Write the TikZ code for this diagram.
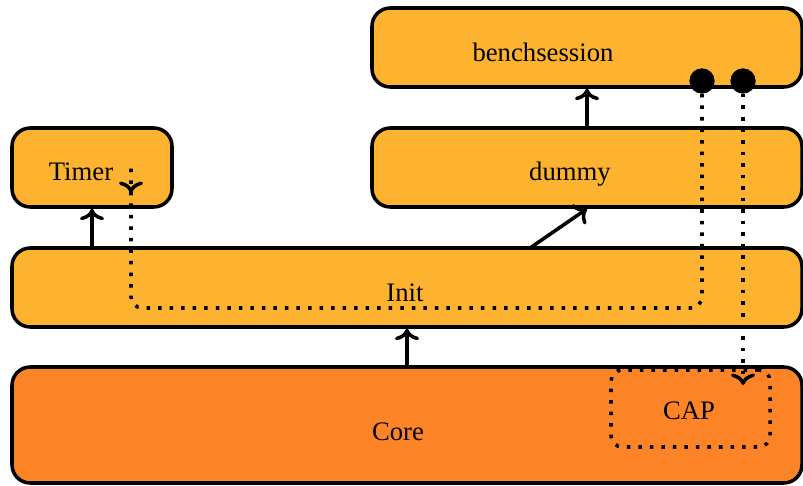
\documentclass[tikz,border=0pt]{standalone}
\usepackage{fontspec}
\setmainfont{Liberation Serif}
\usetikzlibrary{arrows.meta, positioning, fit, calc, decorations.markings}

\definecolor{layerlight}{HTML}{FDB32F}
\definecolor{layercore}{HTML}{FD8327}

\begin{document}
\begin{tikzpicture}[
    x=0.025cm, y=-0.025cm,
    font=\fontsize{19}{22}\selectfont,
    block/.style={rectangle, draw, line width=2.5pt, rounded corners=13pt,
                  inner sep=0pt, fill=layerlight},
    corebox/.style={block, fill=layercore},
    capbox/.style={rectangle, draw, inner sep=0pt, rounded corners=8pt,
                   line width=2.5pt, dash pattern=on 2.5pt off 5.7pt},
    txt/.style={anchor=base, inner sep=0pt},
    arr/.style={-{To[scale=1.15]}, line width=2.5pt},
    dep/.style={line width=2.5pt, dash pattern=on 2.5pt off 5.7pt},
    dot/.style={circle, fill=black, inner sep=0pt, minimum size=18pt},
]
\useasboundingbox (0,0) rectangle (803,486);

% layers
\node[block,   fit={(372,8) (802,87)}]    (bench) {};
\node[block,   fit={(12,128) (172,207)}]  (timer) {};
\node[block,   fit={(372,128) (802,207)}] (dummy) {};
\node[block,   fit={(12,248) (802,327)}]  (init)  {};
\node[corebox, fit={(12,367) (802,483)}]  (core)  {};
\node[capbox,  fit={(611,370) (770,447)}] (cap)   {};

\node[txt] (benchLbl) at (543,62)  {benchsession};
\node[txt] (dummyLbl) at (570,181) {dummy};
\node[txt] (timerLbl) at (81,181)  {Timer};
\node[txt] (initLbl)  at (405,301) {Init};
\node[txt] (coreLbl)  at (398,440) {Core};
\node[txt] (capLbl)   at (689,419) {CAP};

% uses
\coordinate (initTap) at (530,248);
\draw[arr] (init.north -| timer.south) -- (timer.south);
\draw[arr] (core.north) -- (init.south);
\draw[arr] (dummy.north) -- (bench.south);
\draw[arr] (initTap) -- (dummy.south);

% session hooks
\node[dot] (dotA) at (702,81) {};
\node[dot] (dotB) at (743,81) {};
\coordinate (busA)    at (131,308);
\coordinate (timerIn) at (131,166);
\coordinate (capIn)   at (743,385);

\draw[dep, rounded corners=8pt,
      decoration={markings, mark=at position -11pt with {\arrow{To[reversed, scale=1.15]}}},
      postaction={decorate}]
    (dotA) |- (busA) -- (timerIn);
\draw[dep, -{To[scale=1.15]}] (dotB) -- (capIn);

\end{tikzpicture}
\end{document}
